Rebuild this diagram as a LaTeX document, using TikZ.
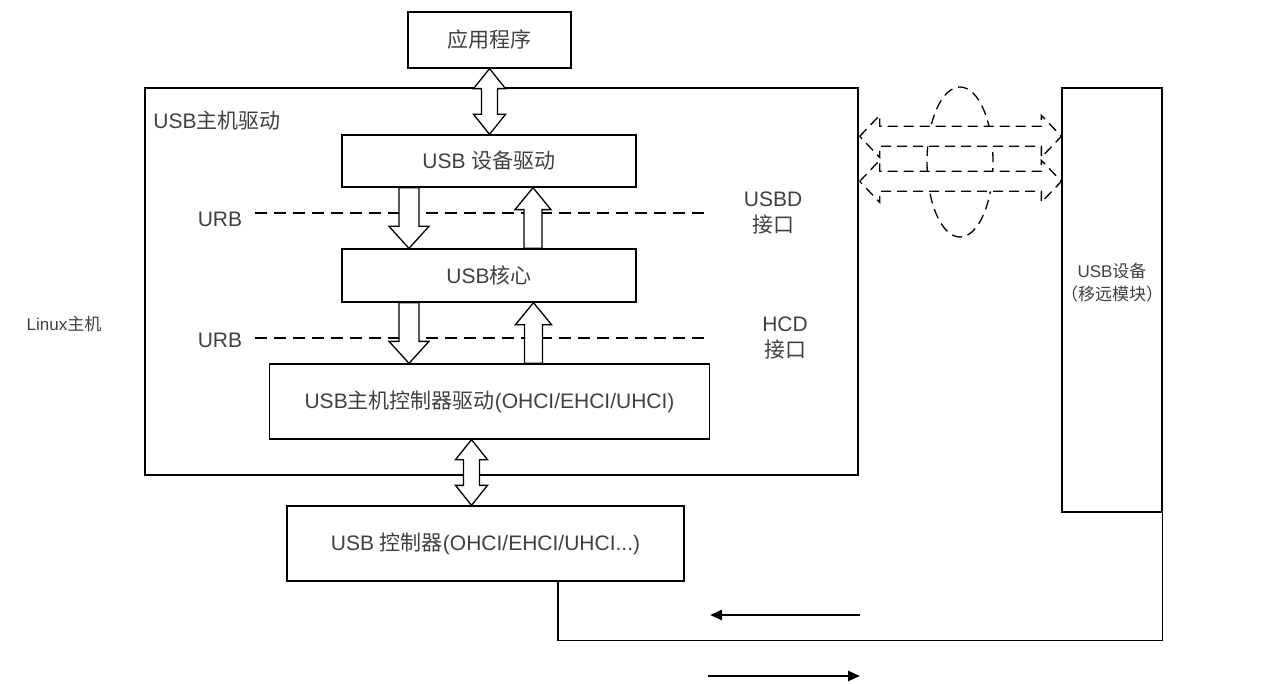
\documentclass[tikz,border=0pt]{standalone}
\usepackage{fontspec}
\setmainfont{Liberation Sans}
\newfontfamily\cjk{Noto Sans CJK SC}
\usepackage{tikz}
\usetikzlibrary{arrows.meta,calc}
\definecolor{txt}{HTML}{404040}
\newcommand{\zh}[1]{{\cjk #1}}
% hollow block arrows, vertical: from #1 to #2
\newcommand{\fatdown}[2]{\draw[fat] let \p1=(#1),\p2=(#2) in
  (\x1-5pt,\y1) -- (\x1-5pt,\y2+11pt) -- (\x1-10pt,\y2+11pt) -- (\x1,\y2)
  -- (\x1+10pt,\y2+11pt) -- (\x1+5pt,\y2+11pt) -- (\x1+5pt,\y1) -- cycle;}
\newcommand{\fatup}[2]{\draw[fat] let \p1=(#1),\p2=(#2) in
  (\x1-4.5pt,\y1) -- (\x1-4.5pt,\y2-11pt) -- (\x1-9pt,\y2-11pt) -- (\x1,\y2)
  -- (\x1+9pt,\y2-11pt) -- (\x1+4.5pt,\y2-11pt) -- (\x1+4.5pt,\y1) -- cycle;}
\newcommand{\fatboth}[2]{\draw[fat] let \p1=(#1),\p2=(#2) in
  (\x1,\y1) -- (\x1+8pt,\y1-10pt) -- (\x1+4pt,\y1-10pt) -- (\x1+4pt,\y2+10pt)
  -- (\x1+8pt,\y2+10pt) -- (\x1,\y2) -- (\x1-8pt,\y2+10pt) -- (\x1-4pt,\y2+10pt)
  -- (\x1-4pt,\y1-10pt) -- (\x1-8pt,\y1-10pt) -- cycle;}
% dashed double arrow, horizontal
\newcommand{\fatlr}[2]{\draw[fat,fatdash] let \p1=(#1),\p2=(#2) in
  (\x1,\y1) -- (\x1+10pt,\y1+10.5pt) -- (\x1+10pt,\y1+5pt) -- (\x2-10pt,\y1+5pt)
  -- (\x2-10pt,\y1+10.5pt) -- (\x2,\y1) -- (\x2-10pt,\y1-10.5pt) -- (\x2-10pt,\y1-5pt)
  -- (\x1+10pt,\y1-5pt) -- (\x1+10pt,\y1-10.5pt) -- cycle;}

\begin{document}
\begin{tikzpicture}[x=0.5pt,y=-0.5pt,
  every node/.append style={font=\fontsize{10.5}{13}\selectfont},
  box/.style={draw,line width=0.65pt,text=txt,inner sep=0pt},
  lbl/.style={text=txt,inner sep=0pt,align=center},
  small/.style={font=\fontsize{8.5}{11.5}\selectfont},
  fat/.style={draw,line width=0.65pt,fill=white},
  fatdash/.style={dash pattern=on 5pt off 3pt},
  urbline/.style={line width=0.6pt,dash pattern=on 6pt off 3.5pt},
  wire/.style={line width=0.6pt},
  flow/.style={line width=1.2pt,-{Triangle[length=6pt,width=5pt]}}]
\useasboundingbox (0,0) rectangle (1268,684);

\node[box,minimum width=81.5pt,minimum height=28pt] (app) at (489.5,40) {\zh{应用程序}};
\node[box,minimum width=356.5pt,minimum height=193.5pt] (host) at (501.5,281.5) {};
\node[lbl,anchor=west] (hostlbl) at (153,121) {USB\zh{主机驱动}};
\node[box,minimum width=147pt,minimum height=26pt] (devdrv) at (489,161) {USB \zh{设备驱动}};
\node[box,minimum width=147pt,minimum height=26.5pt] (core) at (489,275.5) {USB\zh{核心}};
\node[box,minimum width=220pt,minimum height=37.5pt] (hcd) at (489.5,401.5) {USB\zh{主机控制器驱动}(OHCI/EHCI/UHCI)};
\node[box,minimum width=198.5pt,minimum height=37.5pt] (ctrl) at (485.5,543.5) {USB \zh{控制器}(OHCI/EHCI/UHCI...)};
\node[box,minimum width=50pt,minimum height=212pt] (dev) at (1112,300) {};
\node[lbl,small] (devlbl) at (1112,283) {USB\zh{设备}\\\zh{（移远模块）}};

\node[lbl,small] (linux) at (64,324) {Linux\zh{主机}};
\node[lbl] (urb1) at (220,219) {URB};
\node[lbl] (urb2) at (220,340) {URB};
\node[lbl] (usbd) at (773,213) {USBD\\\zh{接口}};
\node[lbl] (hcdif) at (785,338) {HCD\\\zh{接口}};

\draw[urbline] (255,213) -- (710,213);
\draw[urbline] (255,338) -- (710,338);

% block arrows between the layers
\fatboth{app.south}{devdrv.north}
\fatdown{$(devdrv.south)+(-80,0)$}{$(core.north)+(-80,0)$}
\fatup{$(core.north)+(44,0)$}{$(devdrv.south)+(44,0)$}
\fatdown{$(core.south)+(-80,0)$}{$(hcd.north)+(-80,0)$}
\fatup{$(hcd.north)+(44,0)$}{$(core.south)+(44,0)$}
\fatboth{$(hcd.south)+(-18,0)$}{$(ctrl.north)+(-14,0)$}

% bus to the device
\draw[line width=0.65pt,fatdash] (960,162) ellipse [x radius=16.5pt,y radius=37.5pt];
\fatlr{$(host.north east)+(1,49)$}{$(dev.north west)+(0,49)$}
\fatlr{$(host.north east)+(1,94)$}{$(dev.north west)+(0,94)$}

\draw[wire] ($(ctrl.south)+(72.5,0)$) |- ($(dev.south east)+(0,128)$) -- (dev.south east);

\coordinate (in1) at (860,615);
\coordinate (in2) at (710,615);
\coordinate (out1) at (708,676);
\coordinate (out2) at (860,676);
\draw[flow] (in1) -- (in2);
\draw[flow] (out1) -- (out2);
\end{tikzpicture}
\end{document}
